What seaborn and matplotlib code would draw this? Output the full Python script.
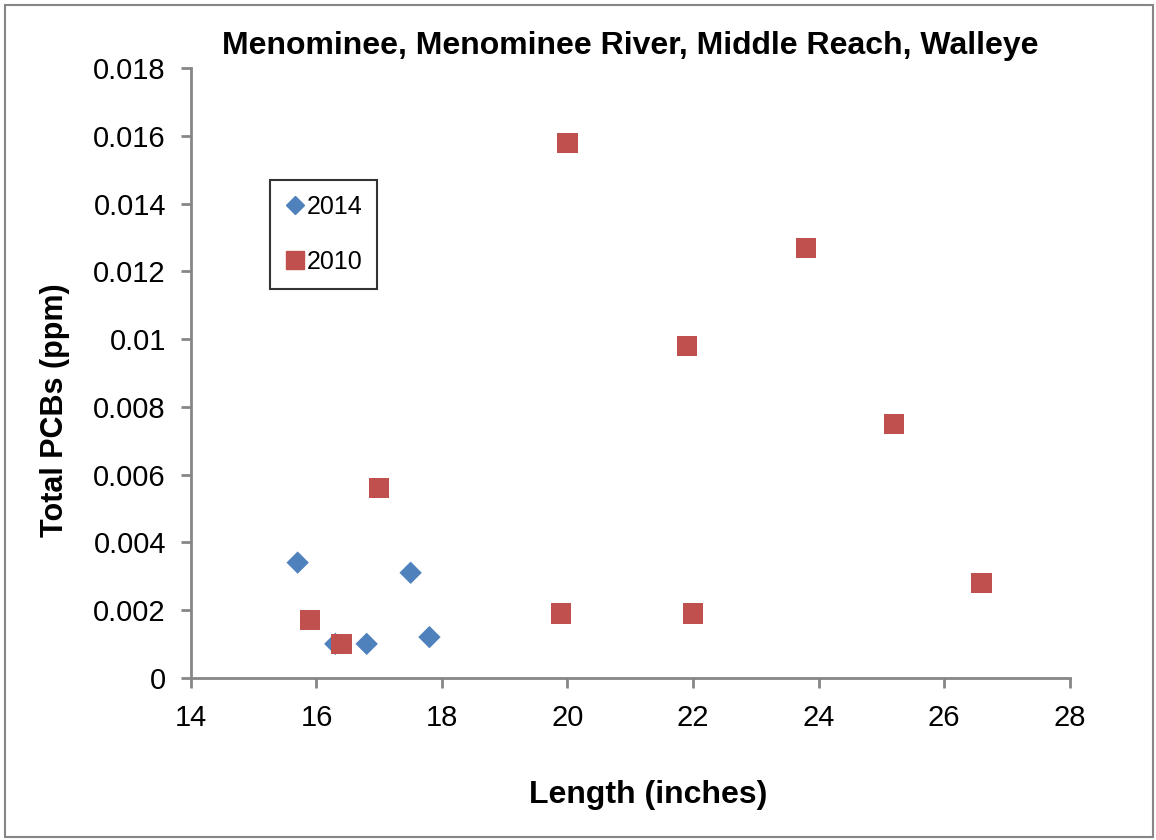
import numpy as np
import pandas as pd
import matplotlib
matplotlib.use('Agg')
import matplotlib.pyplot as plt
import seaborn as sns
from matplotlib.ticker import FuncFormatter
from matplotlib.patches import Rectangle

# 데이터
len_2014 = [15.7, 16.3, 16.8, 17.5, 17.8]
pcb_2014 = [0.0034, 0.0010, 0.0010, 0.0031, 0.0012]
len_2010 = [15.9, 16.4, 17.0, 19.9, 20.0, 21.9, 22.0, 23.8, 25.2, 26.6]
pcb_2010 = [0.0017, 0.0010, 0.0056, 0.0019, 0.0158, 0.0098, 0.0019, 0.0127, 0.0075, 0.0028]
x_ticks = [14, 16, 18, 20, 22, 24, 26, 28]
y_ticks = [0, 0.002, 0.004, 0.006, 0.008, 0.010, 0.012, 0.014, 0.016, 0.018]

df = pd.concat([
    pd.DataFrame({'length': len_2014, 'pcb': pcb_2014, 'year': '2014'}),
    pd.DataFrame({'length': len_2010, 'pcb': pcb_2010, 'year': '2010'}),
], ignore_index=True)

sns.set_style('white')
plt.rcParams['font.family'] = ['Liberation Sans', 'DejaVu Sans']
plt.rcParams['text.color'] = 'black'
plt.rcParams['xtick.labelcolor'] = 'black'
plt.rcParams['ytick.labelcolor'] = 'black'

fig = plt.figure(figsize=(11.56, 8.40), dpi=100)
ax = fig.add_axes([0.1652, 0.1932, 0.7600, 0.7254])

sns.scatterplot(data=df, x='length', y='pcb', hue='year', style='year',
                palette={'2014': '#4F81BD', '2010': '#C0504D'},
                markers={'2014': 'D', '2010': 's'},
                size='year', sizes={'2014': 130, '2010': 215},
                edgecolor='none', linewidth=0, legend=False, ax=ax, zorder=3)

ax.set_xlim(14, 28)
ax.set_ylim(0, 0.018)
ax.set_xticks(x_ticks)
ax.set_yticks(y_ticks)
ax.yaxis.set_major_formatter(FuncFormatter(lambda v, p: '0' if v == 0 else f'{v:g}'))
ax.tick_params(axis='both', labelsize=21, direction='out', length=7, width=2,
               color='#868686', bottom=True, left=True)
ax.tick_params(axis='x', pad=12)
ax.tick_params(axis='y', pad=11)

sns.despine(ax=ax)
for s in ['left', 'bottom']:
    ax.spines[s].set_color('#868686')
    ax.spines[s].set_linewidth(2)

ax.set_xlabel('')
ax.set_ylabel('')
fig.text(0.5606, 0.054, 'Length (inches)', fontsize=23, fontweight='bold',
         ha='center', va='center')
fig.text(0.048, 0.512, 'Total PCBs (ppm)', fontsize=22, fontweight='bold',
         ha='center', va='center', rotation=90)
fig.text(0.545, 0.945, 'Menominee, Menominee River, Middle Reach, Walleye',
         fontsize=23, fontweight='bold', ha='center', va='center')

# 범례
h1 = plt.Line2D([], [], marker='D', color='#4F81BD', linestyle='none', markersize=9.5)
h2 = plt.Line2D([], [], marker='s', color='#C0504D', linestyle='none', markersize=13)
leg = ax.legend([h1, h2], ['2014', '2010'], loc='upper left',
                bbox_to_anchor=(0.090, 0.817), borderaxespad=0, fontsize=18,
                frameon=True, fancybox=False, edgecolor='black', borderpad=0.6,
                labelspacing=1.25, handlelength=0.8, handletextpad=0.05)
leg.get_frame().set_linewidth(1.5)

# 바깥 테두리
fig.patches.append(Rectangle((0.004, 0.003), 0.993, 0.991, transform=fig.transFigure,
                             fill=False, edgecolor='#868686', linewidth=1.5))

fig.savefig('out.png', dpi=100)
